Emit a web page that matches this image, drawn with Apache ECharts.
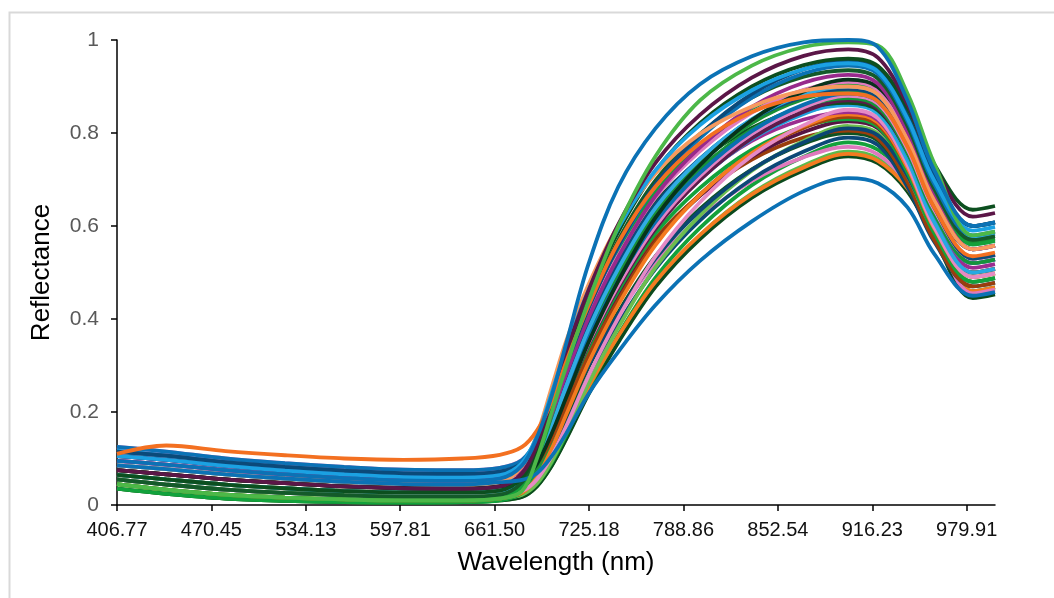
<!DOCTYPE html>
<html>
<head>
<meta charset="utf-8">
<script src="https://cdn.jsdelivr.net/npm/echarts@6/dist/echarts.min.js"></script>
<style>
  html, body { margin: 0; padding: 0; background: #fff; }
  #chart { width: 1054px; height: 598px; }
</style>
</head>
<body>
<div id="chart"></div>
<script>
// wavelengths (nm) sampled along each spectrum
const wavelengths = [406.77, 440, 480, 520, 560, 600, 640, 665, 680, 690, 700, 710, 725, 745, 770, 800, 835, 870, 900, 920, 940, 958, 984, 999]

const xTickLabels = ['406.77', '470.45', '534.13', '597.81', '661.50', '725.18', '788.86', '852.54', '916.23', '979.91']

// reflectance spectra
const r01 = [0.095, 0.087, 0.075, 0.066, 0.058, 0.053, 0.052, 0.057, 0.085, 0.145, 0.235, 0.350, 0.520, 0.685, 0.810, 0.905, 0.965, 0.995, 1.000, 0.985, 0.870, 0.720, 0.600, 0.608]
const r02 = [0.045, 0.033, 0.022, 0.016, 0.012, 0.010, 0.010, 0.014, 0.030, 0.100, 0.200, 0.300, 0.440, 0.600, 0.750, 0.870, 0.945, 0.985, 0.995, 0.988, 0.885, 0.735, 0.580, 0.588]
const r03 = [0.075, 0.066, 0.055, 0.047, 0.040, 0.036, 0.035, 0.040, 0.068, 0.129, 0.228, 0.331, 0.463, 0.604, 0.736, 0.839, 0.919, 0.966, 0.980, 0.962, 0.861, 0.728, 0.620, 0.628]
const r04 = [0.105, 0.097, 0.084, 0.074, 0.066, 0.060, 0.059, 0.064, 0.091, 0.148, 0.241, 0.339, 0.463, 0.596, 0.720, 0.817, 0.892, 0.937, 0.950, 0.932, 0.831, 0.698, 0.590, 0.598]
const r05 = [0.085, 0.077, 0.066, 0.057, 0.050, 0.045, 0.044, 0.049, 0.083, 0.151, 0.253, 0.355, 0.475, 0.602, 0.713, 0.798, 0.857, 0.891, 0.900, 0.883, 0.785, 0.655, 0.550, 0.558]
const r06 = [0.065, 0.055, 0.044, 0.036, 0.030, 0.027, 0.027, 0.031, 0.059, 0.119, 0.217, 0.319, 0.449, 0.588, 0.718, 0.821, 0.900, 0.946, 0.960, 0.944, 0.853, 0.733, 0.635, 0.643]
const r07 = [0.115, 0.106, 0.092, 0.082, 0.074, 0.068, 0.067, 0.072, 0.090, 0.134, 0.213, 0.302, 0.425, 0.558, 0.690, 0.796, 0.884, 0.937, 0.955, 0.937, 0.838, 0.707, 0.600, 0.608]
const r08 = [0.125, 0.115, 0.100, 0.090, 0.082, 0.076, 0.075, 0.080, 0.097, 0.141, 0.218, 0.305, 0.426, 0.556, 0.686, 0.789, 0.876, 0.928, 0.945, 0.927, 0.825, 0.690, 0.580, 0.588]
const r09 = [0.055, 0.044, 0.033, 0.026, 0.021, 0.018, 0.018, 0.022, 0.049, 0.109, 0.205, 0.305, 0.433, 0.570, 0.698, 0.798, 0.876, 0.921, 0.935, 0.917, 0.815, 0.680, 0.570, 0.578]
const r10 = [0.095, 0.087, 0.075, 0.066, 0.058, 0.053, 0.052, 0.057, 0.074, 0.118, 0.196, 0.283, 0.404, 0.534, 0.665, 0.769, 0.856, 0.908, 0.925, 0.906, 0.801, 0.663, 0.550, 0.558]
const r11 = [0.075, 0.066, 0.055, 0.047, 0.040, 0.036, 0.035, 0.040, 0.053, 0.088, 0.154, 0.233, 0.351, 0.482, 0.618, 0.731, 0.828, 0.889, 0.915, 0.899, 0.811, 0.695, 0.600, 0.608]
const r12 = [0.125, 0.115, 0.100, 0.090, 0.082, 0.076, 0.075, 0.080, 0.097, 0.138, 0.213, 0.296, 0.412, 0.537, 0.661, 0.761, 0.844, 0.893, 0.910, 0.892, 0.791, 0.658, 0.550, 0.558]
const r13 = [0.045, 0.033, 0.022, 0.016, 0.012, 0.010, 0.010, 0.014, 0.041, 0.099, 0.192, 0.290, 0.415, 0.549, 0.673, 0.771, 0.847, 0.892, 0.905, 0.888, 0.791, 0.664, 0.560, 0.568]
const r14 = [0.105, 0.097, 0.084, 0.074, 0.066, 0.060, 0.059, 0.064, 0.081, 0.122, 0.197, 0.280, 0.396, 0.521, 0.646, 0.745, 0.829, 0.878, 0.895, 0.877, 0.775, 0.640, 0.530, 0.538]
const r15 = [0.115, 0.106, 0.092, 0.082, 0.074, 0.068, 0.067, 0.072, 0.084, 0.117, 0.178, 0.251, 0.361, 0.483, 0.609, 0.714, 0.804, 0.861, 0.885, 0.868, 0.774, 0.651, 0.550, 0.558]
const r16 = [0.065, 0.055, 0.044, 0.036, 0.030, 0.027, 0.027, 0.031, 0.048, 0.090, 0.166, 0.250, 0.369, 0.495, 0.622, 0.723, 0.807, 0.858, 0.875, 0.857, 0.758, 0.627, 0.520, 0.528]
const r17 = [0.095, 0.087, 0.075, 0.066, 0.058, 0.053, 0.052, 0.057, 0.069, 0.102, 0.163, 0.236, 0.346, 0.468, 0.594, 0.699, 0.789, 0.846, 0.870, 0.853, 0.758, 0.632, 0.530, 0.538]
const r18 = [0.085, 0.077, 0.066, 0.057, 0.050, 0.045, 0.044, 0.049, 0.065, 0.106, 0.179, 0.260, 0.373, 0.495, 0.617, 0.714, 0.795, 0.844, 0.860, 0.842, 0.741, 0.608, 0.500, 0.508]
const r19 = [0.055, 0.044, 0.033, 0.026, 0.021, 0.018, 0.018, 0.022, 0.030, 0.055, 0.105, 0.171, 0.279, 0.403, 0.535, 0.651, 0.751, 0.817, 0.850, 0.832, 0.731, 0.598, 0.490, 0.498]
const r20 = [0.075, 0.066, 0.055, 0.047, 0.040, 0.036, 0.035, 0.040, 0.052, 0.084, 0.143, 0.215, 0.322, 0.441, 0.565, 0.668, 0.756, 0.811, 0.835, 0.818, 0.724, 0.600, 0.500, 0.508]
const r21 = [0.035, 0.024, 0.014, 0.009, 0.006, 0.005, 0.006, 0.010, 0.026, 0.067, 0.141, 0.223, 0.338, 0.461, 0.584, 0.682, 0.764, 0.814, 0.830, 0.813, 0.715, 0.585, 0.480, 0.488]
const r22 = [0.105, 0.097, 0.084, 0.074, 0.066, 0.060, 0.059, 0.064, 0.075, 0.106, 0.163, 0.231, 0.334, 0.448, 0.566, 0.665, 0.749, 0.802, 0.825, 0.810, 0.724, 0.612, 0.520, 0.528]
const r23 = [0.045, 0.033, 0.022, 0.016, 0.012, 0.010, 0.010, 0.014, 0.022, 0.046, 0.094, 0.158, 0.262, 0.382, 0.511, 0.623, 0.719, 0.783, 0.815, 0.799, 0.708, 0.588, 0.490, 0.498]
const r24 = [0.065, 0.055, 0.044, 0.036, 0.030, 0.027, 0.027, 0.031, 0.046, 0.085, 0.155, 0.232, 0.341, 0.457, 0.573, 0.666, 0.743, 0.790, 0.805, 0.788, 0.694, 0.570, 0.470, 0.478]
const r25 = [0.055, 0.044, 0.033, 0.026, 0.021, 0.018, 0.018, 0.022, 0.034, 0.065, 0.123, 0.193, 0.298, 0.415, 0.535, 0.637, 0.722, 0.777, 0.800, 0.784, 0.694, 0.576, 0.480, 0.488]
const r26 = [0.085, 0.077, 0.066, 0.057, 0.050, 0.045, 0.044, 0.049, 0.056, 0.079, 0.123, 0.182, 0.279, 0.390, 0.508, 0.612, 0.701, 0.760, 0.790, 0.774, 0.684, 0.566, 0.470, 0.478]
const r27 = [0.045, 0.033, 0.022, 0.016, 0.012, 0.010, 0.010, 0.014, 0.022, 0.045, 0.091, 0.152, 0.251, 0.366, 0.489, 0.596, 0.688, 0.749, 0.780, 0.764, 0.700, 0.594, 0.460, 0.468]
const r28 = [0.075, 0.066, 0.055, 0.047, 0.040, 0.036, 0.035, 0.040, 0.051, 0.080, 0.135, 0.201, 0.299, 0.409, 0.522, 0.617, 0.697, 0.748, 0.770, 0.754, 0.691, 0.587, 0.455, 0.463]
const r29 = [0.035, 0.024, 0.014, 0.009, 0.006, 0.005, 0.006, 0.010, 0.018, 0.040, 0.085, 0.145, 0.243, 0.355, 0.475, 0.580, 0.670, 0.730, 0.760, 0.745, 0.683, 0.580, 0.450, 0.458]
const r30 = [0.065, 0.055, 0.044, 0.036, 0.030, 0.027, 0.027, 0.031, 0.038, 0.060, 0.103, 0.161, 0.255, 0.364, 0.480, 0.581, 0.668, 0.726, 0.755, 0.740, 0.681, 0.584, 0.460, 0.468]
const r31 = [0.035, 0.024, 0.014, 0.009, 0.006, 0.005, 0.006, 0.010, 0.017, 0.040, 0.084, 0.143, 0.239, 0.350, 0.469, 0.572, 0.661, 0.720, 0.750, 0.735, 0.674, 0.573, 0.445, 0.453]
const r32 = [0.085, 0.077, 0.066, 0.057, 0.050, 0.045, 0.044, 0.049, 0.054, 0.068, 0.105, 0.155, 0.240, 0.330, 0.430, 0.525, 0.610, 0.675, 0.703, 0.692, 0.640, 0.540, 0.450, 0.458]
const r33 = [0.110, 0.128, 0.116, 0.107, 0.100, 0.097, 0.100, 0.108, 0.125, 0.160, 0.222, 0.310, 0.430, 0.565, 0.685, 0.778, 0.845, 0.878, 0.885, 0.868, 0.770, 0.640, 0.535, 0.543]
const r34 = [0.120, 0.111, 0.097, 0.087, 0.079, 0.073, 0.072, 0.077, 0.092, 0.123, 0.182, 0.253, 0.359, 0.476, 0.598, 0.700, 0.787, 0.841, 0.865, 0.848, 0.751, 0.624, 0.520, 0.528]
const r35 = [0.115, 0.106, 0.092, 0.082, 0.074, 0.068, 0.067, 0.072, 0.079, 0.102, 0.146, 0.205, 0.301, 0.411, 0.530, 0.633, 0.721, 0.780, 0.810, 0.795, 0.708, 0.593, 0.500, 0.508]
const r36 = [0.055, 0.044, 0.033, 0.026, 0.021, 0.018, 0.018, 0.022, 0.039, 0.083, 0.161, 0.248, 0.369, 0.499, 0.630, 0.734, 0.821, 0.873, 0.890, 0.874, 0.783, 0.663, 0.565, 0.573]
const r37 = [0.045, 0.033, 0.022, 0.016, 0.012, 0.010, 0.010, 0.014, 0.026, 0.059, 0.121, 0.196, 0.307, 0.431, 0.559, 0.667, 0.757, 0.815, 0.840, 0.823, 0.725, 0.595, 0.490, 0.498]
const r38 = [0.105, 0.097, 0.084, 0.074, 0.066, 0.060, 0.059, 0.064, 0.080, 0.119, 0.189, 0.267, 0.376, 0.494, 0.611, 0.704, 0.783, 0.829, 0.845, 0.828, 0.734, 0.611, 0.510, 0.518]
const r39 = [0.075, 0.066, 0.055, 0.047, 0.040, 0.036, 0.035, 0.040, 0.065, 0.118, 0.205, 0.296, 0.411, 0.535, 0.651, 0.741, 0.811, 0.853, 0.865, 0.849, 0.761, 0.645, 0.550, 0.558]
const r40 = [0.095, 0.087, 0.075, 0.066, 0.058, 0.053, 0.052, 0.057, 0.069, 0.102, 0.164, 0.238, 0.349, 0.473, 0.600, 0.707, 0.798, 0.855, 0.880, 0.863, 0.765, 0.635, 0.530, 0.538]
const r41 = [0.065, 0.055, 0.044, 0.036, 0.030, 0.027, 0.027, 0.031, 0.048, 0.092, 0.170, 0.257, 0.379, 0.509, 0.639, 0.744, 0.830, 0.883, 0.900, 0.884, 0.793, 0.673, 0.575, 0.583]

const spectra = [
  { values: r29, color: '#5bbb4c' },
  { values: r31, color: '#0b4a1d' },
  { values: r27, color: '#14a13b' },
  { values: r30, color: '#f47b20' },
  { values: r28, color: '#df79bd' },
  { values: r26, color: '#0c4877' },
  { values: r25, color: '#0e5222' },
  { values: r24, color: '#9a3d0c' },
  { values: r23, color: '#6cbd4f' },
  { values: r22, color: '#571444' },
  { values: r35, color: '#0a4673' },
  { values: r21, color: '#12a23c' },
  { values: r20, color: '#a0410d' },
  { values: r37, color: '#f47b20' },
  { values: r38, color: '#9b2d8f' },
  { values: r19, color: '#e58ac6' },
  { values: r18, color: '#27a9e1' },
  { values: r34, color: '#1e9fdc' },
  { values: r39, color: '#0d5020' },
  { values: r17, color: '#5e1a4a' },
  { values: r16, color: '#16933a' },
  { values: r40, color: '#e283c4' },
  { values: r36, color: '#1a8f35' },
  { values: r15, color: '#0a6fb0' },
  { values: r14, color: '#0d4b7c' },
  { values: r41, color: '#31ace3' },
  { values: r13, color: '#13a03a' },
  { values: r12, color: '#e07cc0' },
  { values: r11, color: '#07331b' },
  { values: r10, color: '#982a8c' },
  { values: r09, color: '#145a2a' },
  { values: r08, color: '#0b72b5' },
  { values: r07, color: '#0b4a7a' },
  { values: r06, color: '#0c4f1f' },
  { values: r05, color: '#f79a5e' },
  { values: r04, color: '#1ba1e2' },
  { values: r03, color: '#5b1647' },
  { values: r33, color: '#f37021' },
  { values: r32, color: '#0b72b5' },
  { values: r02, color: '#4cb848' },
  { values: r01, color: '#0b72b5' }
]

const chart = echarts.init(document.getElementById('chart'))

const series = spectra.map((s, i) => ({
  name: 'S' + (i + 1),
  type: 'line',
  smooth: 0.35,
  symbol: 'none',
  silent: true,
  lineStyle: { color: s.color, width: 3.8 },
  data: s.values.map((v, j) => [wavelengths[j], v])
}))

chart.setOption({
  animation: false,
  textStyle: { fontFamily: 'Liberation Sans, Arial, sans-serif' },
  grid: { left: 117, right: 59, top: 40, bottom: 93, containLabel: false },
  graphic: [
    {
      type: 'rect',
      left: 7, top: 10,
      shape: { width: 1100, height: 700 },
      style: { fill: 'none', stroke: '#d9d9d9', lineWidth: 2 },
      silent: true
    }
  ],
  xAxis: {
    type: 'value',
    min: 406.77,
    max: 999,
    name: 'Wavelength (nm)',
    nameLocation: 'middle',
    nameGap: 45,
    nameTextStyle: { fontSize: 26, color: '#000' },
    axisLine: { lineStyle: { color: '#000', width: 1.5 } },
    axisTick: { show: true, length: 6, lineStyle: { color: '#000', width: 1.5 }, customValues: xTickLabels.map(Number) },
    axisLabel: {
      color: '#111', fontSize: 20, margin: 15,
      customValues: xTickLabels.map(Number),
      formatter: v => v.toFixed(2)
    },
    splitLine: { show: false }
  },
  yAxis: {
    type: 'value',
    min: 0,
    max: 1,
    interval: 0.2,
    name: 'Reflectance',
    nameLocation: 'middle',
    nameGap: 62,
    nameTextStyle: { fontSize: 26, color: '#000' },
    axisLine: { show: true, lineStyle: { color: '#000', width: 1.5 } },
    axisTick: { show: true, length: 6, lineStyle: { color: '#000', width: 1.5 } },
    axisLabel: { color: '#595959', fontSize: 21, margin: 18 },
    splitLine: { show: false }
  },
  series
})
</script>
</body>
</html>
